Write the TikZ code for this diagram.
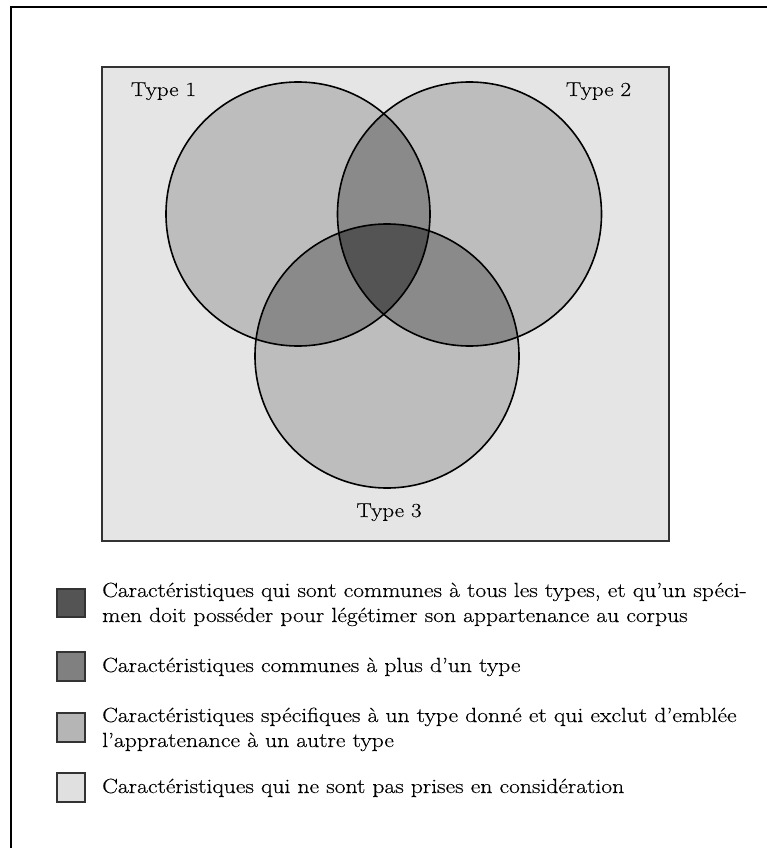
\documentclass[tikz,border=0pt]{standalone}
\usepackage{fontspec}
\setmainfont{Latin Modern Roman}
\newfontfamily\widefont{Latin Modern Roman}[FakeStretch=1.15,FakeBold=0.3]
\definecolor{bgray}{gray}{0.90}
\definecolor{onegray}{gray}{0.74}
\definecolor{twogray}{gray}{0.54}
\definecolor{threegray}{gray}{0.33}
\definecolor{keytwo}{gray}{0.50}
\definecolor{keyone}{gray}{0.71}
\definecolor{keynone}{gray}{0.88}
\begin{document}
\begin{tikzpicture}[x=1pt,y=-1pt,
  legtext/.style={anchor=base west,inner sep=0pt,font=\widefont\fontsize{20.5}{25}\selectfont},
  typelabel/.style={anchor=base,inner sep=0pt,font=\widefont\fontsize{20}{24}\selectfont},
  keybox/.style={draw=black!80,line width=1.4pt},
  ring/.style={draw=black,line width=1.6pt}]
\useasboundingbox (0,0) rectangle (766,848);
% outer frame (only top and left edges show)
\draw[line width=2pt] (11,860) -- (11,7) -- (780,7);
% universe box
\draw[fill=bgray,draw=black!80,line width=1.4pt] (102,67) rectangle (669,541);
% circle centres
\coordinate (c1) at (298,214);
\coordinate (c2) at (469.5,214);
\coordinate (c3) at (387,356);
\def\rr{132pt}
% single-type areas
\fill[onegray] (c1) circle[radius=\rr];
\fill[onegray] (c2) circle[radius=\rr];
\fill[onegray] (c3) circle[radius=\rr];
% pairwise overlaps
\begin{scope}\clip (c1) circle[radius=\rr]; \fill[twogray] (c2) circle[radius=\rr]; \end{scope}
\begin{scope}\clip (c1) circle[radius=\rr]; \fill[twogray] (c3) circle[radius=\rr]; \end{scope}
\begin{scope}\clip (c2) circle[radius=\rr]; \fill[twogray] (c3) circle[radius=\rr]; \end{scope}
% triple overlap
\begin{scope}\clip (c1) circle[radius=\rr]; \clip (c2) circle[radius=\rr]; \fill[threegray] (c3) circle[radius=\rr]; \end{scope}
% outlines
\draw[ring] (c1) circle[radius=\rr];
\draw[ring] (c2) circle[radius=\rr];
\draw[ring] (c3) circle[radius=\rr];
% labels
\node[typelabel] (t1) at (163.5,96) {Type 1};
\node[typelabel] (t2) at (598.5,96) {Type 2};
\node[typelabel] (t3) at (389,517) {Type 3};
% legend keys
\draw[keybox,fill=threegray] (57,589) rectangle (85,617);
\draw[keybox,fill=keytwo] (57,652) rectangle (85,681);
\draw[keybox,fill=keyone] (57,713) rectangle (85,742);
\draw[keybox,fill=keynone] (57,773) rectangle (85,802);
% legend texts
\node[legtext] (l1a) at (102,597) {Caractéristiques qui sont communes à tous les types, et qu’un spéci-};
\node[legtext] (l1b) at (102,622) {men doit posséder pour légétimer son appartenance au corpus};
\node[legtext] (l2) at (102,672) {Caractéristiques communes à plus d’un type};
\node[legtext] (l3a) at (102,722) {Caractéristiques spécifiques à un type donné et qui exclut d’emblée};
\node[legtext] (l3b) at (102,747) {l’appratenance à un autre type};
\node[legtext] (l4) at (102,793) {Caractéristiques qui ne sont pas prises en considération};
\end{tikzpicture}
\end{document}
